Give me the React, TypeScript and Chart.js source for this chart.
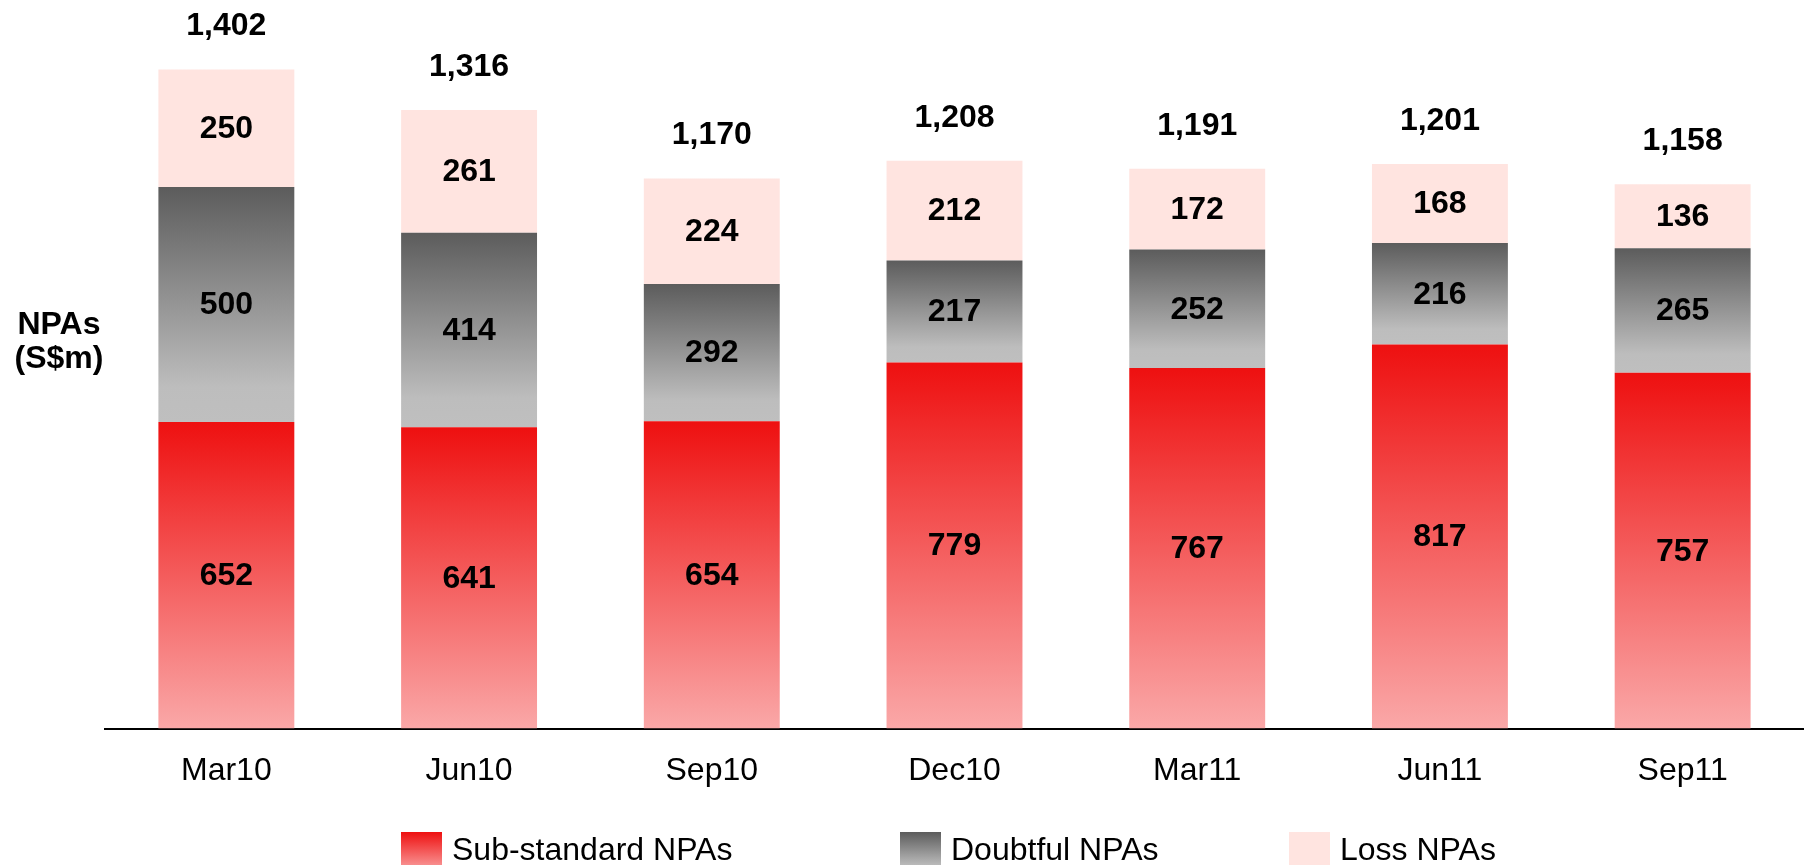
import React, { useEffect, useRef } from "react";
import { Chart, registerables } from "chart.js";

Chart.register(...registerables);

const categories = ["Mar10", "Jun10", "Sep10", "Dec10", "Mar11", "Jun11", "Sep11"];
const subStandard = [652, 641, 654, 779, 767, 817, 757];
const doubtful = [500, 414, 292, 217, 252, 216, 265];
const loss = [250, 261, 224, 212, 172, 168, 136];
const seriesNames = ["Sub-standard NPAs", "Doubtful NPAs", "Loss NPAs"];
const yAxisTitle = ["NPAs", "(S$m)"];

const FONT = "'Liberation Sans', Arial, Helvetica, sans-serif";

type Stop = [number, string];
const subStops: Stop[] = [[0, "#EE1010"], [1, "#FAA8A8"]];
const doubtfulStops: Stop[] = [[0, "#5C5C5C"], [0.85, "#BDBDBD"], [1, "#BFBFBF"]];
const lossStops: Stop[] = [[0, "#FFE4E0"], [1, "#FFE4E0"]];
const allStops = [subStops, doubtfulStops, lossStops];

function makeBg(dsIndex: number, stops: Stop[]) {
  return (ctx: any) => {
    const chart = ctx.chart;
    const i = ctx.dataIndex;
    if (!chart.chartArea || i === undefined || !chart.scales.y) return stops[0][1];
    const ys = chart.scales.y;
    let base = 0;
    for (let d = 0; d < dsIndex; d++) base += chart.data.datasets[d].data[i];
    const top = base + chart.data.datasets[dsIndex].data[i];
    const y0 = ys.getPixelForValue(top);
    const y1 = ys.getPixelForValue(base);
    const g = chart.ctx.createLinearGradient(0, y0, 0, y1);
    stops.forEach(([o, c]) => g.addColorStop(o, c));
    return g;
  };
}

const labelPlugin = {
  id: "npaLabels",
  afterDatasetsDraw(chart: any) {
    const c = chart.ctx;
    c.save();
    c.fillStyle = "#000";
    c.textAlign = "center";
    c.textBaseline = "middle";
    c.font = `bold 32px ${FONT}`;
    chart.data.datasets.forEach((ds: any, di: number) => {
      const meta = chart.getDatasetMeta(di);
      meta.data.forEach((el: any, i: number) => {
        c.fillText(String(ds.data[i]), el.x, (el.y + el.base) / 2 + 1);
      });
    });
    const n = chart.data.datasets.length;
    const lastMeta = chart.getDatasetMeta(n - 1);
    lastMeta.data.forEach((el: any, i: number) => {
      let total = 0;
      chart.data.datasets.forEach((ds: any) => (total += ds.data[i]));
      c.fillText(total.toLocaleString("en-US"), el.x, el.y - 43);
    });

    // y-axis title (horizontal)
    c.textBaseline = "alphabetic";
    c.fillText(yAxisTitle[0], 59, 334);
    c.fillText(yAxisTitle[1], 59, 368);

    // legend
    const itemX = [401, 900, 1289];
    const boxW = 41;
    const boxH = 40;
    const boxTop = 832;
    c.font = `32px ${FONT}`;
    c.textAlign = "left";
    seriesNames.forEach((name, k) => {
      const x = itemX[k];
      const g = c.createLinearGradient(0, boxTop, 0, boxTop + boxH);
      allStops[k].forEach(([o, col]) => g.addColorStop(o, col));
      c.fillStyle = g;
      c.fillRect(x, boxTop, boxW, boxH);
      c.fillStyle = "#000";
      c.fillText(name, x + 51, 860);
    });
    c.restore();
  },
};

export default function App() {
  const ref = useRef<HTMLCanvasElement | null>(null);

  useEffect(() => {
    if (!ref.current) return;
    const chart = new Chart(ref.current, {
      type: "bar",
      data: {
        labels: categories,
        datasets: [
          { label: seriesNames[0], data: subStandard, backgroundColor: makeBg(0, subStops), borderWidth: 0 },
          { label: seriesNames[1], data: doubtful, backgroundColor: makeBg(1, doubtfulStops), borderWidth: 0 },
          { label: seriesNames[2], data: loss, backgroundColor: makeBg(2, lossStops), borderWidth: 0 },
        ],
      },
      options: {
        responsive: false,
        animation: false,
        devicePixelRatio: 1,
        layout: { padding: { left: 105, right: 0, top: 0, bottom: 52 } },
        datasets: { bar: { barPercentage: 0.56, categoryPercentage: 1 } },
        plugins: {
          legend: { display: false },
          tooltip: { enabled: false },
          title: { display: false },
        },
        scales: {
          x: {
            stacked: true,
            grid: { display: false, drawTicks: false },
            border: { display: true, color: "#000", width: 2 },
            ticks: {
              color: "#000",
              padding: 23,
              font: { family: FONT, size: 32 },
              maxRotation: 0,
            },
          },
          y: {
            stacked: true,
            display: false,
            min: 0,
            max: 1550,
          },
        },
      },
      plugins: [labelPlugin],
    });
    return () => chart.destroy();
  }, []);

  return (
    <div style={{ position: "fixed", left: 0, top: 0, width: 1804, height: 865, background: "#fff" }}>
      <canvas ref={ref} width={1804} height={865} style={{ width: 1804, height: 865, display: "block" }} />
    </div>
  );
}
